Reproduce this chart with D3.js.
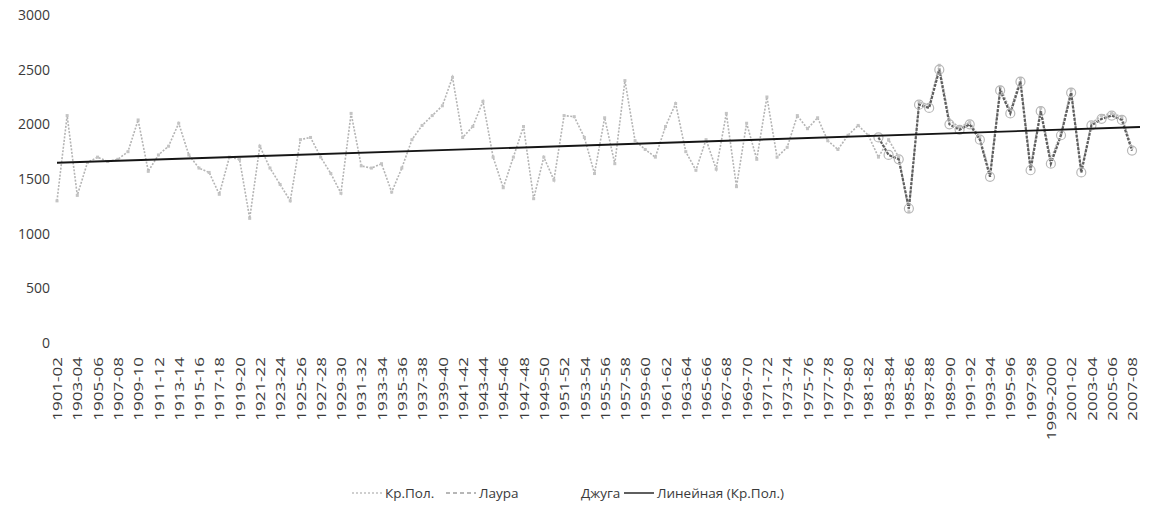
<!DOCTYPE html>
<html>
<head>
<meta charset="utf-8">
<script src="https://cdn.jsdelivr.net/npm/d3@7/dist/d3.min.js"></script>
<style>
  html, body { margin: 0; padding: 0; background: #fff; }
  svg { display: block; }
  text { font-family: "Open Sans", "Noto Sans", sans-serif; fill: #3a3a3a; }
</style>
</head>
<body>
<svg id="chart" width="1155" height="506"></svg>
<script>
// Seasons 1901-02 … 2007-08
const seasons = d3.range(1901, 2008).map(y => {
  const next = y + 1;
  const tail = next % 100 === 0 ? String(next) : String(next % 100).padStart(2, "0");
  return `${y}-${tail}`;
});

// Кр.Пол. — seasonal totals
const krPol = [
  1300, 2080, 1350, 1650, 1700, 1660, 1680, 1750, 2040, 1570,
  1720, 1800, 2010, 1720, 1600, 1560, 1360, 1700, 1680, 1140,
  1800, 1600, 1450, 1300, 1860, 1880, 1700, 1550, 1370, 2100,
  1620, 1600, 1640, 1380, 1600, 1860, 1990, 2080, 2170, 2430,
  1880, 1980, 2210, 1700, 1420, 1700, 1980, 1320, 1700, 1490,
  2080, 2070, 1880, 1550, 2060, 1640, 2400, 1850, 1770, 1700,
  1980, 2190, 1750, 1580, 1860, 1590, 2100, 1430, 2010, 1680,
  2250, 1700, 1790, 2080, 1960, 2060, 1850, 1770, 1900, 1990,
  1900, 1700, 1860, 1700, 1200, 2200, 2180, 2540, 2040, 1970,
  2020, 1880, 1550, 2340, 2130, 2420, 1610, 2150, 1680, 1920,
  2320, 1580, 2010, 2080, 2100, 2070, 1790
];

// Лаура — recorded from 1982-83 onward
const lauraStart = 81;
const laura = [
  1880, 1720, 1680, 1230, 2180, 2150, 2500, 2000, 1950,
  2000, 1860, 1520, 2310, 2100, 2390, 1580, 2120, 1640, 1900,
  2290, 1560, 1990, 2050, 2080, 2040, 1760
];

// Джуга — no values plotted
const dzhuga = [];

// Linear trend of Кр.Пол. at the first and last season
const trend = [1648, 1975];

const yTicks = [0, 500, 1000, 1500, 2000, 2500, 3000];
const tickLabels = seasons.filter((d, i) => i % 2 === 0);

const legendItems = ["Кр.Пол.", "Лаура", "Джуга", "Линейная (Кр.Пол.)"];

const svg = d3.select("#chart");

const x = d3.scalePoint().domain(seasons).range([57, 1132]);
const y = d3.scaleLinear().domain([0, 3000]).range([343, 15]);

// Y axis: labels only
const yAxis = d3.axisLeft(y).tickValues(yTicks).tickSize(0).tickPadding(0).tickFormat(d3.format("d"));
svg.append("g")
  .attr("transform", "translate(50,0)")
  .call(yAxis)
  .call(g => g.select(".domain").remove())
  .selectAll("text")
  .style("font-size", "14px")
  .style("font-family", "'Open Sans', sans-serif")
  .attr("fill", "#3a3a3a");

// X axis: every second season, rotated and set narrow
const xAxis = d3.axisBottom(x).tickValues(tickLabels).tickSize(0).tickPadding(0);
svg.append("g")
  .attr("transform", "translate(0,357)")
  .call(xAxis)
  .call(g => g.select(".domain").remove())
  .selectAll("text")
  .style("font-size", "17px")
  .style("font-family", "'Open Sans', sans-serif")
  .attr("fill", "#3a3a3a")
  .attr("text-anchor", "end")
  .attr("dy", "0.35em")
  .attr("transform", "rotate(-90) scale(1,0.78)")
  .attr("x", 0)
  .attr("y", 0);

const line = d3.line().x(d => d.x).y(d => d.y);

// Кр.Пол. series
const krPts = krPol.map((v, i) => ({ x: x(seasons[i]), y: y(v) }));
svg.append("path")
  .attr("d", line(krPts))
  .attr("fill", "none")
  .attr("stroke", "#b4b4b4")
  .attr("stroke-width", 1.6)
  .attr("stroke-dasharray", "2,1.5");
svg.append("g").selectAll("rect")
  .data(krPts)
  .join("rect")
  .attr("x", d => d.x - 1.5).attr("y", d => d.y - 1.5)
  .attr("width", 3).attr("height", 3)
  .attr("fill", "#c4c4c4");

// Лаура series
const lauraPts = laura.map((v, i) => ({ x: x(seasons[lauraStart + i]), y: y(v) }));
svg.append("path")
  .attr("d", line(lauraPts))
  .attr("fill", "none")
  .attr("stroke", "#5e5e5e")
  .attr("stroke-width", 2.2)
  .attr("stroke-dasharray", "3,1.2");
svg.append("g").selectAll("circle")
  .data(lauraPts)
  .join("circle")
  .attr("cx", d => d.x).attr("cy", d => d.y).attr("r", 4.5)
  .attr("fill", "none")
  .attr("stroke", "#b8b8b8")
  .attr("stroke-width", 1.2);

// Linear trend
svg.append("path")
  .attr("d", line([
    { x: x(seasons[0]), y: y(trend[0]) },
    { x: x(seasons[seasons.length - 1]) + 8, y: y(trend[1]) }
  ]))
  .attr("fill", "none")
  .attr("stroke", "#151515")
  .attr("stroke-width", 1.9);

// Legend
const legend = svg.append("g").attr("transform", "translate(0,493)");
const legendDefs = [
  { label: legendItems[0], x0: 352, stroke: "#c0c0c0", dash: "2,2", width: 1.6 },
  { label: legendItems[1], x0: 446, stroke: "#a0a0a0", dash: "4,3", width: 1.6 },
  { label: legendItems[2], x0: 548, stroke: "none", dash: null, width: 0 },
  { label: legendItems[3], x0: 624, stroke: "#1a1a1a", dash: null, width: 1.4 }
];
legendDefs.forEach(d => {
  legend.append("line")
    .attr("x1", d.x0).attr("x2", d.x0 + 30)
    .attr("y1", 0).attr("y2", 0)
    .attr("stroke", d.stroke)
    .attr("stroke-width", d.width)
    .attr("stroke-dasharray", d.dash);
  legend.append("text")
    .attr("x", d.x0 + 33).attr("y", 0)
    .attr("dy", "0.35em")
    .style("font-size", "13.5px")
    .text(d.label);
});
</script>
</body>
</html>
